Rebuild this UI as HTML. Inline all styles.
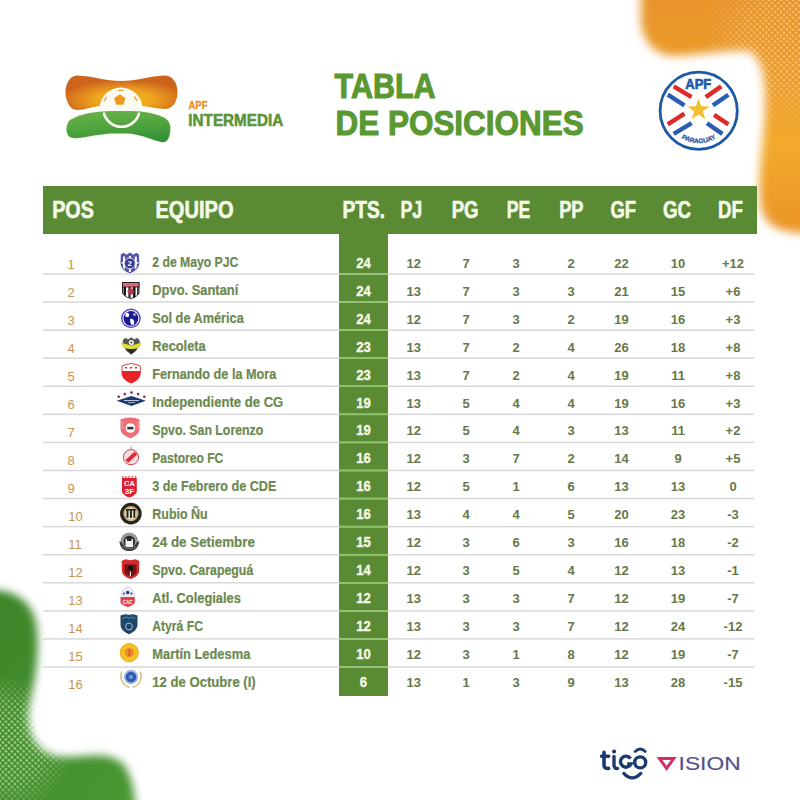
<!DOCTYPE html>
<html><head><meta charset="utf-8"><style>
html,body{margin:0;padding:0;width:800px;height:800px;overflow:hidden;background:#fff}
svg{display:block;position:absolute;left:0;top:0}
text{font-family:"Liberation Sans",sans-serif}
</style></head><body>
<svg width="800" height="800" viewBox="0 0 800 800">
<defs>
<filter id="blur4" x="-20%" y="-20%" width="140%" height="140%"><feGaussianBlur stdDeviation="4.2"/></filter><filter id="blur5" x="-20%" y="-20%" width="140%" height="140%"><feGaussianBlur stdDeviation="5"/></filter>
<linearGradient id="og" x1="0" y1="0" x2="0" y2="1"><stop offset="0" stop-color="#e8942a"/><stop offset="0.3" stop-color="#ec9c2a"/><stop offset="0.55" stop-color="#f2aa2e"/><stop offset="1" stop-color="#e88e22"/></linearGradient>
<linearGradient id="gg" x1="0" y1="0" x2="1" y2="1"><stop offset="0" stop-color="#3c8428"/><stop offset="1" stop-color="#4c9a36"/></linearGradient>
<radialGradient id="lo" cx="0.52" cy="0.7" r="0.58"><stop offset="0" stop-color="#f6be18"/><stop offset="0.45" stop-color="#eea41e"/><stop offset="1" stop-color="#cc641c"/></radialGradient>
<linearGradient id="lg" x1="0.3" y1="0" x2="0.6" y2="1"><stop offset="0" stop-color="#6cb24a"/><stop offset="0.5" stop-color="#4ea43e"/><stop offset="1" stop-color="#339036"/></linearGradient>
<pattern id="gdots" width="4.2" height="4.2" patternUnits="userSpaceOnUse" patternTransform="rotate(45)"><circle cx="2.1" cy="2.1" r="1.5" fill="#a0d084"/></pattern>
<pattern id="odots" width="4.2" height="4.2" patternUnits="userSpaceOnUse" patternTransform="rotate(45)"><circle cx="2.1" cy="2.1" r="1.3" fill="#f8d49a" fill-opacity="0.75"/></pattern>
<radialGradient id="gmg" cx="5" cy="745" r="70" gradientUnits="userSpaceOnUse"><stop offset="0" stop-color="#fff" stop-opacity="1"/><stop offset="0.55" stop-color="#fff" stop-opacity="0.8"/><stop offset="1" stop-color="#fff" stop-opacity="0"/></radialGradient>
<mask id="gmask"><rect x="0" y="560" width="200" height="240" fill="url(#gmg)"/></mask>
<radialGradient id="omg" cx="790" cy="40" r="90" gradientUnits="userSpaceOnUse"><stop offset="0" stop-color="#fff" stop-opacity="1"/><stop offset="0.5" stop-color="#fff" stop-opacity="0.8"/><stop offset="1" stop-color="#fff" stop-opacity="0"/></radialGradient>
<mask id="omask"><rect x="600" y="0" width="200" height="260" fill="url(#omg)"/></mask>
</defs>

<mask id="oshape"><path filter="url(#blur5)" fill="#fff" d="M641,-20 L641,12 C639,37 652,56 676,56 C700,55 725,50 746,51 C761,53 766,78 765,110 C764,140 758,170 760,198 C761,222 773,231 800,233 L815,233 L815,-20 Z"/></mask>
<g mask="url(#oshape)"><rect x="600" y="0" width="200" height="260" fill="url(#og)"/><rect x="600" y="0" width="200" height="260" fill="url(#odots)" mask="url(#omask)"/></g>
<mask id="gshape"><path filter="url(#blur4)" fill="#fff" d="M-20,592 C5,586 30,596 36,622 C40,648 36,676 30,702 C25,726 32,750 56,756 C80,760 106,748 123,764 C132,774 135,795 137,820 L-20,820 Z"/></mask>
<g mask="url(#gshape)"><rect x="0" y="560" width="200" height="240" fill="url(#gg)"/><rect x="0" y="560" width="200" height="240" fill="url(#gdots)" mask="url(#gmask)"/></g>
<rect x="43" y="186" width="714" height="48" fill="#5a8a33"/>
<rect x="339" y="234" width="49" height="462" fill="#5a8a33"/>
<rect x="43" y="273.25" width="711" height="1.5" fill="#d8d8d8"/>
<rect x="339" y="273.25" width="49" height="1.5" fill="#8fc06c"/>
<rect x="43" y="301.32" width="711" height="1.5" fill="#d8d8d8"/>
<rect x="339" y="301.32" width="49" height="1.5" fill="#8fc06c"/>
<rect x="43" y="329.39" width="711" height="1.5" fill="#d8d8d8"/>
<rect x="339" y="329.39" width="49" height="1.5" fill="#8fc06c"/>
<rect x="43" y="357.46" width="711" height="1.5" fill="#d8d8d8"/>
<rect x="339" y="357.46" width="49" height="1.5" fill="#8fc06c"/>
<rect x="43" y="385.53" width="711" height="1.5" fill="#d8d8d8"/>
<rect x="339" y="385.53" width="49" height="1.5" fill="#8fc06c"/>
<rect x="43" y="413.60" width="711" height="1.5" fill="#d8d8d8"/>
<rect x="339" y="413.60" width="49" height="1.5" fill="#8fc06c"/>
<rect x="43" y="441.67" width="711" height="1.5" fill="#d8d8d8"/>
<rect x="339" y="441.67" width="49" height="1.5" fill="#8fc06c"/>
<rect x="43" y="469.74" width="711" height="1.5" fill="#d8d8d8"/>
<rect x="339" y="469.74" width="49" height="1.5" fill="#8fc06c"/>
<rect x="43" y="497.81" width="711" height="1.5" fill="#d8d8d8"/>
<rect x="339" y="497.81" width="49" height="1.5" fill="#8fc06c"/>
<rect x="43" y="525.88" width="711" height="1.5" fill="#d8d8d8"/>
<rect x="339" y="525.88" width="49" height="1.5" fill="#8fc06c"/>
<rect x="43" y="553.95" width="711" height="1.5" fill="#d8d8d8"/>
<rect x="339" y="553.95" width="49" height="1.5" fill="#8fc06c"/>
<rect x="43" y="582.02" width="711" height="1.5" fill="#d8d8d8"/>
<rect x="339" y="582.02" width="49" height="1.5" fill="#8fc06c"/>
<rect x="43" y="610.09" width="711" height="1.5" fill="#d8d8d8"/>
<rect x="339" y="610.09" width="49" height="1.5" fill="#8fc06c"/>
<rect x="43" y="638.16" width="711" height="1.5" fill="#d8d8d8"/>
<rect x="339" y="638.16" width="49" height="1.5" fill="#8fc06c"/>
<rect x="43" y="666.23" width="711" height="1.5" fill="#d8d8d8"/>
<rect x="339" y="666.23" width="49" height="1.5" fill="#8fc06c"/>
<text x="52.2" y="218" font-size="24.7" font-weight="bold" fill="#f4f8e8" stroke="#f4f8e8" stroke-width="0.7" textLength="41.6" lengthAdjust="spacingAndGlyphs">POS</text>
<text x="155.45" y="218" font-size="24.7" font-weight="bold" fill="#f4f8e8" stroke="#f4f8e8" stroke-width="0.7" textLength="78.1" lengthAdjust="spacingAndGlyphs">EQUIPO</text>
<text x="342.45" y="218" font-size="24.7" font-weight="bold" fill="#f4f8e8" stroke="#f4f8e8" stroke-width="0.7" textLength="42.6" lengthAdjust="spacingAndGlyphs">PTS.</text>
<text x="400.45" y="218" font-size="24.7" font-weight="bold" fill="#f4f8e8" stroke="#f4f8e8" stroke-width="0.7" textLength="21.85" lengthAdjust="spacingAndGlyphs">PJ</text>
<text x="451.7" y="218" font-size="24.7" font-weight="bold" fill="#f4f8e8" stroke="#f4f8e8" stroke-width="0.7" textLength="26.85" lengthAdjust="spacingAndGlyphs">PG</text>
<text x="506.7" y="218" font-size="24.7" font-weight="bold" fill="#f4f8e8" stroke="#f4f8e8" stroke-width="0.7" textLength="23.6" lengthAdjust="spacingAndGlyphs">PE</text>
<text x="559.2" y="218" font-size="24.7" font-weight="bold" fill="#f4f8e8" stroke="#f4f8e8" stroke-width="0.7" textLength="24.35" lengthAdjust="spacingAndGlyphs">PP</text>
<text x="610.45" y="218" font-size="24.7" font-weight="bold" fill="#f4f8e8" stroke="#f4f8e8" stroke-width="0.7" textLength="25.6" lengthAdjust="spacingAndGlyphs">GF</text>
<text x="662.95" y="218" font-size="24.7" font-weight="bold" fill="#f4f8e8" stroke="#f4f8e8" stroke-width="0.7" textLength="28.1" lengthAdjust="spacingAndGlyphs">GC</text>
<text x="717.95" y="218" font-size="24.7" font-weight="bold" fill="#f4f8e8" stroke="#f4f8e8" stroke-width="0.7" textLength="24.85" lengthAdjust="spacingAndGlyphs">DF</text>
<text x="334.6" y="98.3" font-size="35.3" font-weight="bold" fill="#5a9832" stroke="#5a9832" stroke-width="1.1" textLength="101" lengthAdjust="spacingAndGlyphs">TABLA</text>
<text x="335.6" y="135.1" font-size="35.3" font-weight="bold" fill="#5a9832" stroke="#5a9832" stroke-width="1.1" textLength="248" lengthAdjust="spacingAndGlyphs">DE POSICIONES</text>
<text x="188.5" y="108.8" font-size="10.9" font-weight="bold" fill="#e8902a" stroke="#e8902a" stroke-width="0.3" textLength="19" lengthAdjust="spacingAndGlyphs">APF</text>
<text x="188.3" y="126" font-size="17.4" font-weight="bold" fill="#5a9436" stroke="#5a9436" stroke-width="0.55" textLength="95" lengthAdjust="spacingAndGlyphs">INTERMEDIA</text>
<text x="67.6" y="268.80" font-size="13" fill="#c9944f">1</text>
<text x="152.3" y="267.30" font-size="13.8" font-weight="bold" fill="#6c894f" stroke="#6c894f" stroke-width="0.2" textLength="86.0" lengthAdjust="spacingAndGlyphs">2 de Mayo PJC</text>
<text x="363.5" y="267.60" font-size="14.2" font-weight="bold" text-anchor="middle" fill="#f4f8e8" stroke="#f4f8e8" stroke-width="0.35" textLength="14.6" lengthAdjust="spacingAndGlyphs">24</text>
<text x="413.7" y="267.60" font-size="13" font-weight="bold" text-anchor="middle" fill="#66784a">12</text>
<text x="466" y="267.60" font-size="13" font-weight="bold" text-anchor="middle" fill="#66784a">7</text>
<text x="516" y="267.60" font-size="13" font-weight="bold" text-anchor="middle" fill="#66784a">3</text>
<text x="571" y="267.60" font-size="13" font-weight="bold" text-anchor="middle" fill="#66784a">2</text>
<text x="621.6" y="267.60" font-size="13" font-weight="bold" text-anchor="middle" fill="#66784a">22</text>
<text x="678" y="267.60" font-size="13" font-weight="bold" text-anchor="middle" fill="#66784a">10</text>
<text x="733" y="267.60" font-size="13" font-weight="bold" text-anchor="middle" fill="#66784a">+12</text>
<text x="67.6" y="296.78" font-size="13" fill="#c9944f">2</text>
<text x="152.3" y="295.28" font-size="13.8" font-weight="bold" fill="#6c894f" stroke="#6c894f" stroke-width="0.2" textLength="86.0" lengthAdjust="spacingAndGlyphs">Dpvo. Santaní</text>
<text x="363.5" y="295.58" font-size="14.2" font-weight="bold" text-anchor="middle" fill="#f4f8e8" stroke="#f4f8e8" stroke-width="0.35" textLength="14.6" lengthAdjust="spacingAndGlyphs">24</text>
<text x="413.7" y="295.58" font-size="13" font-weight="bold" text-anchor="middle" fill="#66784a">13</text>
<text x="466" y="295.58" font-size="13" font-weight="bold" text-anchor="middle" fill="#66784a">7</text>
<text x="516" y="295.58" font-size="13" font-weight="bold" text-anchor="middle" fill="#66784a">3</text>
<text x="571" y="295.58" font-size="13" font-weight="bold" text-anchor="middle" fill="#66784a">3</text>
<text x="621.6" y="295.58" font-size="13" font-weight="bold" text-anchor="middle" fill="#66784a">21</text>
<text x="678" y="295.58" font-size="13" font-weight="bold" text-anchor="middle" fill="#66784a">15</text>
<text x="733" y="295.58" font-size="13" font-weight="bold" text-anchor="middle" fill="#66784a">+6</text>
<text x="67.6" y="324.76" font-size="13" fill="#c9944f">3</text>
<text x="152.3" y="323.26" font-size="13.8" font-weight="bold" fill="#6c894f" stroke="#6c894f" stroke-width="0.2" textLength="91.4" lengthAdjust="spacingAndGlyphs">Sol de América</text>
<text x="363.5" y="323.56" font-size="14.2" font-weight="bold" text-anchor="middle" fill="#f4f8e8" stroke="#f4f8e8" stroke-width="0.35" textLength="14.6" lengthAdjust="spacingAndGlyphs">24</text>
<text x="413.7" y="323.56" font-size="13" font-weight="bold" text-anchor="middle" fill="#66784a">12</text>
<text x="466" y="323.56" font-size="13" font-weight="bold" text-anchor="middle" fill="#66784a">7</text>
<text x="516" y="323.56" font-size="13" font-weight="bold" text-anchor="middle" fill="#66784a">3</text>
<text x="571" y="323.56" font-size="13" font-weight="bold" text-anchor="middle" fill="#66784a">2</text>
<text x="621.6" y="323.56" font-size="13" font-weight="bold" text-anchor="middle" fill="#66784a">19</text>
<text x="678" y="323.56" font-size="13" font-weight="bold" text-anchor="middle" fill="#66784a">16</text>
<text x="733" y="323.56" font-size="13" font-weight="bold" text-anchor="middle" fill="#66784a">+3</text>
<text x="67.6" y="352.74" font-size="13" fill="#c9944f">4</text>
<text x="152.3" y="351.24" font-size="13.8" font-weight="bold" fill="#6c894f" stroke="#6c894f" stroke-width="0.2" textLength="53.4" lengthAdjust="spacingAndGlyphs">Recoleta</text>
<text x="363.5" y="351.54" font-size="14.2" font-weight="bold" text-anchor="middle" fill="#f4f8e8" stroke="#f4f8e8" stroke-width="0.35" textLength="14.6" lengthAdjust="spacingAndGlyphs">23</text>
<text x="413.7" y="351.54" font-size="13" font-weight="bold" text-anchor="middle" fill="#66784a">13</text>
<text x="466" y="351.54" font-size="13" font-weight="bold" text-anchor="middle" fill="#66784a">7</text>
<text x="516" y="351.54" font-size="13" font-weight="bold" text-anchor="middle" fill="#66784a">2</text>
<text x="571" y="351.54" font-size="13" font-weight="bold" text-anchor="middle" fill="#66784a">4</text>
<text x="621.6" y="351.54" font-size="13" font-weight="bold" text-anchor="middle" fill="#66784a">26</text>
<text x="678" y="351.54" font-size="13" font-weight="bold" text-anchor="middle" fill="#66784a">18</text>
<text x="733" y="351.54" font-size="13" font-weight="bold" text-anchor="middle" fill="#66784a">+8</text>
<text x="67.6" y="380.72" font-size="13" fill="#c9944f">5</text>
<text x="152.3" y="379.22" font-size="13.8" font-weight="bold" fill="#6c894f" stroke="#6c894f" stroke-width="0.2" textLength="124.0" lengthAdjust="spacingAndGlyphs">Fernando de la Mora</text>
<text x="363.5" y="379.52" font-size="14.2" font-weight="bold" text-anchor="middle" fill="#f4f8e8" stroke="#f4f8e8" stroke-width="0.35" textLength="14.6" lengthAdjust="spacingAndGlyphs">23</text>
<text x="413.7" y="379.52" font-size="13" font-weight="bold" text-anchor="middle" fill="#66784a">13</text>
<text x="466" y="379.52" font-size="13" font-weight="bold" text-anchor="middle" fill="#66784a">7</text>
<text x="516" y="379.52" font-size="13" font-weight="bold" text-anchor="middle" fill="#66784a">2</text>
<text x="571" y="379.52" font-size="13" font-weight="bold" text-anchor="middle" fill="#66784a">4</text>
<text x="621.6" y="379.52" font-size="13" font-weight="bold" text-anchor="middle" fill="#66784a">19</text>
<text x="678" y="379.52" font-size="13" font-weight="bold" text-anchor="middle" fill="#66784a">11</text>
<text x="733" y="379.52" font-size="13" font-weight="bold" text-anchor="middle" fill="#66784a">+8</text>
<text x="67.6" y="408.70" font-size="13" fill="#c9944f">6</text>
<text x="152.3" y="407.20" font-size="13.8" font-weight="bold" fill="#6c894f" stroke="#6c894f" stroke-width="0.2" textLength="131.0" lengthAdjust="spacingAndGlyphs">Independiente de CG</text>
<text x="363.5" y="407.50" font-size="14.2" font-weight="bold" text-anchor="middle" fill="#f4f8e8" stroke="#f4f8e8" stroke-width="0.35" textLength="14.6" lengthAdjust="spacingAndGlyphs">19</text>
<text x="413.7" y="407.50" font-size="13" font-weight="bold" text-anchor="middle" fill="#66784a">13</text>
<text x="466" y="407.50" font-size="13" font-weight="bold" text-anchor="middle" fill="#66784a">5</text>
<text x="516" y="407.50" font-size="13" font-weight="bold" text-anchor="middle" fill="#66784a">4</text>
<text x="571" y="407.50" font-size="13" font-weight="bold" text-anchor="middle" fill="#66784a">4</text>
<text x="621.6" y="407.50" font-size="13" font-weight="bold" text-anchor="middle" fill="#66784a">19</text>
<text x="678" y="407.50" font-size="13" font-weight="bold" text-anchor="middle" fill="#66784a">16</text>
<text x="733" y="407.50" font-size="13" font-weight="bold" text-anchor="middle" fill="#66784a">+3</text>
<text x="67.6" y="436.68" font-size="13" fill="#c9944f">7</text>
<text x="152.3" y="435.18" font-size="13.8" font-weight="bold" fill="#6c894f" stroke="#6c894f" stroke-width="0.2" textLength="111.0" lengthAdjust="spacingAndGlyphs">Spvo. San Lorenzo</text>
<text x="363.5" y="435.48" font-size="14.2" font-weight="bold" text-anchor="middle" fill="#f4f8e8" stroke="#f4f8e8" stroke-width="0.35" textLength="14.6" lengthAdjust="spacingAndGlyphs">19</text>
<text x="413.7" y="435.48" font-size="13" font-weight="bold" text-anchor="middle" fill="#66784a">12</text>
<text x="466" y="435.48" font-size="13" font-weight="bold" text-anchor="middle" fill="#66784a">5</text>
<text x="516" y="435.48" font-size="13" font-weight="bold" text-anchor="middle" fill="#66784a">4</text>
<text x="571" y="435.48" font-size="13" font-weight="bold" text-anchor="middle" fill="#66784a">3</text>
<text x="621.6" y="435.48" font-size="13" font-weight="bold" text-anchor="middle" fill="#66784a">13</text>
<text x="678" y="435.48" font-size="13" font-weight="bold" text-anchor="middle" fill="#66784a">11</text>
<text x="733" y="435.48" font-size="13" font-weight="bold" text-anchor="middle" fill="#66784a">+2</text>
<text x="67.6" y="464.66" font-size="13" fill="#c9944f">8</text>
<text x="152.3" y="463.16" font-size="13.8" font-weight="bold" fill="#6c894f" stroke="#6c894f" stroke-width="0.2" textLength="71.0" lengthAdjust="spacingAndGlyphs">Pastoreo FC</text>
<text x="363.5" y="463.46" font-size="14.2" font-weight="bold" text-anchor="middle" fill="#f4f8e8" stroke="#f4f8e8" stroke-width="0.35" textLength="14.6" lengthAdjust="spacingAndGlyphs">16</text>
<text x="413.7" y="463.46" font-size="13" font-weight="bold" text-anchor="middle" fill="#66784a">12</text>
<text x="466" y="463.46" font-size="13" font-weight="bold" text-anchor="middle" fill="#66784a">3</text>
<text x="516" y="463.46" font-size="13" font-weight="bold" text-anchor="middle" fill="#66784a">7</text>
<text x="571" y="463.46" font-size="13" font-weight="bold" text-anchor="middle" fill="#66784a">2</text>
<text x="621.6" y="463.46" font-size="13" font-weight="bold" text-anchor="middle" fill="#66784a">14</text>
<text x="678" y="463.46" font-size="13" font-weight="bold" text-anchor="middle" fill="#66784a">9</text>
<text x="733" y="463.46" font-size="13" font-weight="bold" text-anchor="middle" fill="#66784a">+5</text>
<text x="67.6" y="492.64" font-size="13" fill="#c9944f">9</text>
<text x="152.3" y="491.14" font-size="13.8" font-weight="bold" fill="#6c894f" stroke="#6c894f" stroke-width="0.2" textLength="124.0" lengthAdjust="spacingAndGlyphs">3 de Febrero de CDE</text>
<text x="363.5" y="491.44" font-size="14.2" font-weight="bold" text-anchor="middle" fill="#f4f8e8" stroke="#f4f8e8" stroke-width="0.35" textLength="14.6" lengthAdjust="spacingAndGlyphs">16</text>
<text x="413.7" y="491.44" font-size="13" font-weight="bold" text-anchor="middle" fill="#66784a">12</text>
<text x="466" y="491.44" font-size="13" font-weight="bold" text-anchor="middle" fill="#66784a">5</text>
<text x="516" y="491.44" font-size="13" font-weight="bold" text-anchor="middle" fill="#66784a">1</text>
<text x="571" y="491.44" font-size="13" font-weight="bold" text-anchor="middle" fill="#66784a">6</text>
<text x="621.6" y="491.44" font-size="13" font-weight="bold" text-anchor="middle" fill="#66784a">13</text>
<text x="678" y="491.44" font-size="13" font-weight="bold" text-anchor="middle" fill="#66784a">13</text>
<text x="733" y="491.44" font-size="13" font-weight="bold" text-anchor="middle" fill="#66784a">0</text>
<text x="68.3" y="520.62" font-size="13" fill="#c9944f">10</text>
<text x="152.3" y="519.12" font-size="13.8" font-weight="bold" fill="#6c894f" stroke="#6c894f" stroke-width="0.2" textLength="55.4" lengthAdjust="spacingAndGlyphs">Rubio Ñu</text>
<text x="363.5" y="519.42" font-size="14.2" font-weight="bold" text-anchor="middle" fill="#f4f8e8" stroke="#f4f8e8" stroke-width="0.35" textLength="14.6" lengthAdjust="spacingAndGlyphs">16</text>
<text x="413.7" y="519.42" font-size="13" font-weight="bold" text-anchor="middle" fill="#66784a">13</text>
<text x="466" y="519.42" font-size="13" font-weight="bold" text-anchor="middle" fill="#66784a">4</text>
<text x="516" y="519.42" font-size="13" font-weight="bold" text-anchor="middle" fill="#66784a">4</text>
<text x="571" y="519.42" font-size="13" font-weight="bold" text-anchor="middle" fill="#66784a">5</text>
<text x="621.6" y="519.42" font-size="13" font-weight="bold" text-anchor="middle" fill="#66784a">20</text>
<text x="678" y="519.42" font-size="13" font-weight="bold" text-anchor="middle" fill="#66784a">23</text>
<text x="733" y="519.42" font-size="13" font-weight="bold" text-anchor="middle" fill="#66784a">-3</text>
<text x="68.3" y="548.60" font-size="13" fill="#c9944f">11</text>
<text x="152.3" y="547.10" font-size="13.8" font-weight="bold" fill="#6c894f" stroke="#6c894f" stroke-width="0.2" textLength="102.6" lengthAdjust="spacingAndGlyphs">24 de Setiembre</text>
<text x="363.5" y="547.40" font-size="14.2" font-weight="bold" text-anchor="middle" fill="#f4f8e8" stroke="#f4f8e8" stroke-width="0.35" textLength="14.6" lengthAdjust="spacingAndGlyphs">15</text>
<text x="413.7" y="547.40" font-size="13" font-weight="bold" text-anchor="middle" fill="#66784a">12</text>
<text x="466" y="547.40" font-size="13" font-weight="bold" text-anchor="middle" fill="#66784a">3</text>
<text x="516" y="547.40" font-size="13" font-weight="bold" text-anchor="middle" fill="#66784a">6</text>
<text x="571" y="547.40" font-size="13" font-weight="bold" text-anchor="middle" fill="#66784a">3</text>
<text x="621.6" y="547.40" font-size="13" font-weight="bold" text-anchor="middle" fill="#66784a">16</text>
<text x="678" y="547.40" font-size="13" font-weight="bold" text-anchor="middle" fill="#66784a">18</text>
<text x="733" y="547.40" font-size="13" font-weight="bold" text-anchor="middle" fill="#66784a">-2</text>
<text x="68.3" y="576.58" font-size="13" fill="#c9944f">12</text>
<text x="152.3" y="575.08" font-size="13.8" font-weight="bold" fill="#6c894f" stroke="#6c894f" stroke-width="0.2" textLength="101.0" lengthAdjust="spacingAndGlyphs">Spvo. Carapeguá</text>
<text x="363.5" y="575.38" font-size="14.2" font-weight="bold" text-anchor="middle" fill="#f4f8e8" stroke="#f4f8e8" stroke-width="0.35" textLength="14.6" lengthAdjust="spacingAndGlyphs">14</text>
<text x="413.7" y="575.38" font-size="13" font-weight="bold" text-anchor="middle" fill="#66784a">12</text>
<text x="466" y="575.38" font-size="13" font-weight="bold" text-anchor="middle" fill="#66784a">3</text>
<text x="516" y="575.38" font-size="13" font-weight="bold" text-anchor="middle" fill="#66784a">5</text>
<text x="571" y="575.38" font-size="13" font-weight="bold" text-anchor="middle" fill="#66784a">4</text>
<text x="621.6" y="575.38" font-size="13" font-weight="bold" text-anchor="middle" fill="#66784a">12</text>
<text x="678" y="575.38" font-size="13" font-weight="bold" text-anchor="middle" fill="#66784a">13</text>
<text x="733" y="575.38" font-size="13" font-weight="bold" text-anchor="middle" fill="#66784a">-1</text>
<text x="68.3" y="604.56" font-size="13" fill="#c9944f">13</text>
<text x="152.3" y="603.06" font-size="13.8" font-weight="bold" fill="#6c894f" stroke="#6c894f" stroke-width="0.2" textLength="88.6" lengthAdjust="spacingAndGlyphs">Atl. Colegiales</text>
<text x="363.5" y="603.36" font-size="14.2" font-weight="bold" text-anchor="middle" fill="#f4f8e8" stroke="#f4f8e8" stroke-width="0.35" textLength="14.6" lengthAdjust="spacingAndGlyphs">12</text>
<text x="413.7" y="603.36" font-size="13" font-weight="bold" text-anchor="middle" fill="#66784a">13</text>
<text x="466" y="603.36" font-size="13" font-weight="bold" text-anchor="middle" fill="#66784a">3</text>
<text x="516" y="603.36" font-size="13" font-weight="bold" text-anchor="middle" fill="#66784a">3</text>
<text x="571" y="603.36" font-size="13" font-weight="bold" text-anchor="middle" fill="#66784a">7</text>
<text x="621.6" y="603.36" font-size="13" font-weight="bold" text-anchor="middle" fill="#66784a">12</text>
<text x="678" y="603.36" font-size="13" font-weight="bold" text-anchor="middle" fill="#66784a">19</text>
<text x="733" y="603.36" font-size="13" font-weight="bold" text-anchor="middle" fill="#66784a">-7</text>
<text x="68.3" y="632.54" font-size="13" fill="#c9944f">14</text>
<text x="152.3" y="631.04" font-size="13.8" font-weight="bold" fill="#6c894f" stroke="#6c894f" stroke-width="0.2" textLength="50.6" lengthAdjust="spacingAndGlyphs">Atyrá FC</text>
<text x="363.5" y="631.34" font-size="14.2" font-weight="bold" text-anchor="middle" fill="#f4f8e8" stroke="#f4f8e8" stroke-width="0.35" textLength="14.6" lengthAdjust="spacingAndGlyphs">12</text>
<text x="413.7" y="631.34" font-size="13" font-weight="bold" text-anchor="middle" fill="#66784a">13</text>
<text x="466" y="631.34" font-size="13" font-weight="bold" text-anchor="middle" fill="#66784a">3</text>
<text x="516" y="631.34" font-size="13" font-weight="bold" text-anchor="middle" fill="#66784a">3</text>
<text x="571" y="631.34" font-size="13" font-weight="bold" text-anchor="middle" fill="#66784a">7</text>
<text x="621.6" y="631.34" font-size="13" font-weight="bold" text-anchor="middle" fill="#66784a">12</text>
<text x="678" y="631.34" font-size="13" font-weight="bold" text-anchor="middle" fill="#66784a">24</text>
<text x="733" y="631.34" font-size="13" font-weight="bold" text-anchor="middle" fill="#66784a">-12</text>
<text x="68.3" y="660.52" font-size="13" fill="#c9944f">15</text>
<text x="152.3" y="659.02" font-size="13.8" font-weight="bold" fill="#6c894f" stroke="#6c894f" stroke-width="0.2" textLength="98.0" lengthAdjust="spacingAndGlyphs">Martín Ledesma</text>
<text x="363.5" y="659.32" font-size="14.2" font-weight="bold" text-anchor="middle" fill="#f4f8e8" stroke="#f4f8e8" stroke-width="0.35" textLength="14.6" lengthAdjust="spacingAndGlyphs">10</text>
<text x="413.7" y="659.32" font-size="13" font-weight="bold" text-anchor="middle" fill="#66784a">12</text>
<text x="466" y="659.32" font-size="13" font-weight="bold" text-anchor="middle" fill="#66784a">3</text>
<text x="516" y="659.32" font-size="13" font-weight="bold" text-anchor="middle" fill="#66784a">1</text>
<text x="571" y="659.32" font-size="13" font-weight="bold" text-anchor="middle" fill="#66784a">8</text>
<text x="621.6" y="659.32" font-size="13" font-weight="bold" text-anchor="middle" fill="#66784a">12</text>
<text x="678" y="659.32" font-size="13" font-weight="bold" text-anchor="middle" fill="#66784a">19</text>
<text x="733" y="659.32" font-size="13" font-weight="bold" text-anchor="middle" fill="#66784a">-7</text>
<text x="68.3" y="688.50" font-size="13" fill="#c9944f">16</text>
<text x="152.3" y="687.00" font-size="13.8" font-weight="bold" fill="#6c894f" stroke="#6c894f" stroke-width="0.2" textLength="103.4" lengthAdjust="spacingAndGlyphs">12 de Octubre (I)</text>
<text x="363.5" y="687.30" font-size="14.2" font-weight="bold" text-anchor="middle" fill="#f4f8e8" stroke="#f4f8e8" stroke-width="0.35" textLength="7.3" lengthAdjust="spacingAndGlyphs">6</text>
<text x="413.7" y="687.30" font-size="13" font-weight="bold" text-anchor="middle" fill="#66784a">13</text>
<text x="466" y="687.30" font-size="13" font-weight="bold" text-anchor="middle" fill="#66784a">1</text>
<text x="516" y="687.30" font-size="13" font-weight="bold" text-anchor="middle" fill="#66784a">3</text>
<text x="571" y="687.30" font-size="13" font-weight="bold" text-anchor="middle" fill="#66784a">9</text>
<text x="621.6" y="687.30" font-size="13" font-weight="bold" text-anchor="middle" fill="#66784a">13</text>
<text x="678" y="687.30" font-size="13" font-weight="bold" text-anchor="middle" fill="#66784a">28</text>
<text x="733" y="687.30" font-size="13" font-weight="bold" text-anchor="middle" fill="#66784a">-15</text>
<!-- APF Intermedia logo -->
<g id="intermedia">
<path fill="url(#lo)" d="M78,75.5 C92,76 106,81 121,81 C136,81 150,76 164,75.5 C173,75.5 177.5,83 177.5,92 C177.5,101 173,109 165,109 C156,109 148,106 141,106 L101,106 C93,106 86,110 77,110 C70,110 65.5,101 65.5,92.5 C65.5,83 70,75.5 78,75.5 Z"/>
<circle cx="121" cy="109" r="21.5" fill="#fbfbf3"/>
<path fill="#ee9a1c" d="M119.8,94.2 L125.5,98.2 L123.5,104.8 L116.2,104.8 L114.1,98.2 Z"/>
<path stroke="#e8a040" stroke-width="1.3" fill="none" stroke-linecap="round" d="M118.5,90.3 L123.5,90.3 M104.2,101 L106.5,97.3 M134.5,96.8 L137,100.6"/>
<path fill="url(#lg)" stroke="#fbfbf3" stroke-width="1.6" d="M70,119 C80,113.5 95,110.5 110,110.3 L132,110.3 C145,110.5 157,113.5 165,117 C170,120 172,126 171,132 C170,139 167,143.5 162,143 C152,141 143,135.5 128,134.3 L112,134.3 C98,135 86,138 76,139 C68,139.5 65,134 65.7,128.5 C66.2,124 67.5,121 70,119 Z"/>
<path fill="none" stroke="#fbfbf3" stroke-width="2.7" stroke-linecap="round" d="M104,113.7 A18.25,18.25 0 0 0 139,113.7"/>
</g>
<!-- APF Paraguay -->
<g id="apf">
<circle cx="698.7" cy="110.7" r="38.6" fill="#ffffff" stroke="#1d5aa6" stroke-width="2.8"/>
<text x="685.3" y="89.3" font-size="15" font-weight="bold" fill="#1d5aa6" stroke="#1d5aa6" stroke-width="0.7" textLength="26" lengthAdjust="spacingAndGlyphs">APF</text>
<g stroke-width="4.4" stroke-linecap="butt">
<path stroke="#e02a2a" d="M673.75,86.4 L691.6,97.1 M721.25,86.4 L705.8,97.1 M667.8,124.4 L684.4,113.7 M714.1,114.9 L728.4,124.4"/>
<path stroke="#2a5cb0" d="M667.8,94.7 L684.4,105.4 M728.4,94.7 L712.9,105.4 M673.75,133.9 L691.6,123.2 M707,123.2 L722.4,133.9"/>
</g>
<path fill="#f0c030" d="M698.5,98.5 L701.2,106.3 L709.5,106.4 L702.9,111.4 L705.3,119.3 L698.5,114.6 L691.7,119.3 L694.1,111.4 L687.5,106.4 L695.8,106.3 Z"/>
<path id="arcp" fill="none" d="M666.2,110.7 A32.5,32.5 0 0 0 731.2,110.7"/>
<text font-size="6.6" font-weight="bold" fill="#1d5aa6" stroke="#1d5aa6" stroke-width="0.25"><textPath href="#arcp" startOffset="50%" text-anchor="middle">PARAGUAY</textPath></text>
</g>
<!-- 1 2 de Mayo -->
<g>
<path fill="#5454aa" d="M120.8,254.5 L123.5,252.8 L126.5,254.8 L129.9,252.6 L133.3,254.8 L136.3,252.8 L139,254.5 L139.3,263 C139.3,268 135,271.5 129.9,273.3 C124.8,271.5 120.5,268 120.5,263 Z"/>
<path fill="#ffffff" d="M123,256.5 L125,256.5 L125,269.5 L123,267.5 Z M128.9,256 L130.9,256 L130.9,272 L128.9,272 Z M134.8,256.5 L136.8,256.5 L136.8,267.5 L134.8,269.5 Z"/>
<path fill="#ffffff" d="M121.5,262 h17 v1.6 h-17 Z"/>
<circle cx="129.8" cy="263.4" r="5.4" fill="#38388e" stroke="#e8e8f8" stroke-width="0.9"/>
<text x="129.8" y="266.4" font-size="8" font-weight="bold" fill="#fff" text-anchor="middle">2</text>
</g>
<!-- 2 Santani -->
<g>
<path fill="#ffffff" stroke="#111" stroke-width="0.9" d="M122.5,282.5 L139,282.5 L139,292 C139,295 135,297.5 130.8,298.5 C126.5,297.5 122.5,295 122.5,292 Z"/>
<path fill="#111" d="M123.5,287 L126,287 L126,296 L123.5,294 Z M128.5,287 L130.5,287 L130.5,298 L128.5,297.5 Z M133,287 L135.5,287 L135.5,297 L133,297.8 Z M137.2,287 L138.5,287 L138.5,294 L137.2,295.5 Z"/>
<rect x="122.5" y="282.5" width="16.5" height="4.5" fill="#d86a78" stroke="#111" stroke-width="0.7"/>
<circle cx="130.8" cy="291.5" r="3.2" fill="#b03a50"/>
</g>
<!-- 3 Sol de America -->
<g>
<circle cx="130.9" cy="318.4" r="9.8" fill="#4a4ad0"/>
<circle cx="130.9" cy="318.4" r="8.4" fill="#ffffff"/>
<circle cx="130.9" cy="318.4" r="7.4" fill="#1a1a90"/>
<path fill="#ffffff" d="M126,313 C128,312 130,314 129,316 C128,318 126,317 125,316 Z M130,319 C133,318 135,321 134,324 C133,325.5 131,325 130.5,323 Z"/>
<circle cx="134.5" cy="314.5" r="1.6" fill="#b0a080"/>
</g>
<!-- 4 Recoleta -->
<g>
<path fill="#55554a" d="M123,340 L125.5,337.8 L128,339.5 L131.2,337.3 L134.5,339.5 L137,337.8 L139.5,340 L140,344 L136,351 L131.2,354.5 L126.5,351 L122.5,344 Z"/>
<path fill="#e0dc38" d="M120.8,342.5 L127.5,344.5 L131.2,345.5 L135,344.5 L141.8,342.5 L139.5,347.5 L134.5,348.8 L131.2,349.2 L128,348.8 L123,347.5 Z"/>
<path fill="#2a2a22" d="M126,349 L136.5,349 L131.2,354.5 Z"/>
<circle cx="131.3" cy="342.6" r="2.5" fill="#ffffff"/>
<circle cx="131.3" cy="342.6" r="1" fill="#333"/>
</g>
<!-- 5 Fernando de la Mora -->
<g>
<path fill="#ffffff" stroke="#e02830" stroke-width="0.9" d="M122,366 L126,364.5 L131.2,363.5 L136,364.5 L140.3,366 L140.3,373 C140.3,378 136,381.5 131.2,383 C126.5,381.5 122,378 122,373 Z"/>
<path fill="#e82028" d="M122,371 L140.3,371 L140.3,373 C140.3,378 136,381.5 131.2,383 C126.5,381.5 122,378 122,373 Z"/>
<path fill="#c03040" d="M125,367 h2 v1.5 h-2 Z M130,367 h2 v1.5 h-2 Z M135,367 h2 v1.5 h-2 Z"/>
</g>
<!-- 6 Independiente CG -->
<g>
<path fill="#1c3a78" d="M116.6,400.8 L131.5,396 L145.8,400.8 L131.5,406 Z"/>
<path fill="#ffffff" opacity="0.7" d="M124,400 h15 v0.9 h-15 Z M128,402.2 h7 v0.8 h-7 Z"/>
<g fill="#8a2848"><circle cx="118.7" cy="396.7" r="1.3"/><circle cx="124.8" cy="394.1" r="1.3"/><circle cx="131.5" cy="392.6" r="1.3"/><circle cx="138.1" cy="394.1" r="1.3"/><circle cx="144.3" cy="396.7" r="1.3"/></g>
</g>
<!-- 7 San Lorenzo -->
<g>
<path fill="#ec6e76" d="M120.5,419.5 L125,418 L130.4,417.5 L135.5,418 L139.5,419.5 L139.5,429 C139.5,433.5 135,436.5 130.4,438.2 C125.5,436.5 120.5,433.5 120.5,429 Z"/>
<path fill="none" stroke="#f8c0c4" stroke-width="0.6" d="M122.5,421 L122.5,429 M138,421 L138,429"/>
<circle cx="130.4" cy="428" r="4.8" fill="#ffffff"/>
<rect x="127.3" y="426.8" width="6.2" height="2.6" fill="#333"/>
</g>
<!-- 8 Pastoreo -->
<g>
<circle cx="131" cy="457.2" r="7.6" fill="#f4e0e0" stroke="#d04050" stroke-width="1"/>
<path fill="#e02838" d="M125.5,460 L134.5,451.8 L137.2,454.5 L128.2,462.7 Z"/>
<rect x="130.4" y="446.5" width="1.2" height="3" fill="#c0a070"/>
</g>
<!-- 9 3 de Febrero -->
<g>
<path fill="#e01e2e" d="M122,478 L136.8,478 L136.8,491 C136.8,494 133,496.5 129.4,497.3 C125.8,496.5 122,494 122,491 Z"/>
<g fill="#d03040"><rect x="122.2" y="476.2" width="1.4" height="1.4"/><rect x="125.2" y="476.2" width="1.4" height="1.4"/><rect x="128.4" y="476.2" width="1.4" height="1.4"/><rect x="131.6" y="476.2" width="1.4" height="1.4"/><rect x="134.8" y="476.2" width="1.4" height="1.4"/></g>
<text x="129.4" y="486" font-size="7.5" font-weight="bold" fill="#fff" text-anchor="middle" textLength="11" lengthAdjust="spacingAndGlyphs">CA</text>
<text x="129.4" y="493.5" font-size="7.5" font-weight="bold" fill="#fff" text-anchor="middle" textLength="10" lengthAdjust="spacingAndGlyphs">3F</text>
</g>
<!-- 10 Rubio Nu -->
<g>
<circle cx="130.9" cy="513.6" r="10.8" fill="#2a2418"/>
<circle cx="130.9" cy="513.6" r="7.6" fill="#c4b488"/>
<circle cx="130.9" cy="513.9" r="5.6" fill="#f0ece0"/>
<path fill="#2a2418" d="M126.5,510 h2 v7.8 h-2 Z M129.9,509.5 h2 v8.6 h-2 Z M133.3,510 h2 v7.8 h-2 Z"/>
<rect x="126" y="509" width="9.8" height="1.5" fill="#2a2418"/>
</g>
<!-- 11 24 de Setiembre -->
<g>
<circle cx="129.3" cy="541.3" r="8.8" fill="#9a9a9a"/>
<circle cx="129.3" cy="541.6" r="5.8" fill="#2a2a2a"/>
<path fill="#f0f0f0" d="M125.5,547 L125.5,539.5 L127,538.5 L127,541 L131.5,541 L131.5,538.5 L133,539.5 L133,547 Z"/>
<path fill="#3a3a3a" d="M119.3,541.5 C121,541 122.5,543 124,545.5 C126,548 132.5,548 134.5,545.5 C136,543 137.5,541 139.5,541.5 L138,546 C136,550 132.5,551 129.3,551 C126,551 122.5,550 120.5,546 Z"/>
<path fill="none" stroke="#bbb" stroke-width="0.5" d="M122,546 C125,549.5 133.5,549.5 136.5,546"/>
</g>
<!-- 12 Carapegua -->
<g>
<path fill="#d42a2a" d="M121.6,561 L125.5,559.3 L130.6,560.3 L135.5,559.3 L139.3,561 L139.1,571 C139.1,575 135,577.8 130.6,579 C126.2,577.8 122,575 122,571 Z"/>
<path fill="#7a1414" d="M124.5,564.5 L136.5,564.5 L136.5,571.5 C136.5,574 133.5,576 130.6,576.8 C127.7,576 124.5,574 124.5,571.5 Z"/>
<path fill="#141010" d="M128.5,566 L133.5,566 L132.5,570.5 L131.5,576 L129.3,576.5 L130.5,570 L128,569 Z"/>
<path fill="#ffffff" d="M130.2,571.5 L131.3,571.5 L130.8,576.2 L129.6,576.4 Z"/>
</g>
<!-- 13 Colegiales -->
<g>
<path fill="#e8eaf2" stroke="#c8c8d8" stroke-width="0.5" d="M121,596 C121,590 124,588 127.7,586.5 C131.5,588 134.6,590 134.6,596 Z"/>
<circle cx="127.7" cy="592.5" r="1.7" fill="#2a3a70"/>
<circle cx="124" cy="593.5" r="1" fill="#2a3a70"/>
<circle cx="131.5" cy="593.5" r="1" fill="#2a3a70"/>
<path fill="#e24252" d="M120.5,597 L134.8,597 L134.8,603 C133,605 130,606.5 127.7,607 C125.2,606.5 122.5,605 120.5,603 Z"/>
<text x="127.7" y="604" font-size="5.5" font-weight="bold" fill="#fff" text-anchor="middle" textLength="10" lengthAdjust="spacingAndGlyphs">CAC</text>
</g>
<!-- 14 Atyra -->
<g>
<path fill="#1e4668" d="M120.5,615.5 L124.5,614.2 L129,614.8 L133.5,614.2 L137.5,615.5 L137.5,624.5 C137.5,629 133.5,632.5 129,634.2 C124.5,632.5 120.5,629 120.5,624.5 Z"/>
<path fill="none" stroke="#6a9ac0" stroke-width="0.8" d="M122.5,618.5 L127,617 L129,618.5 L131,617 L135.5,618.5"/>
<circle cx="129" cy="626.5" r="3.4" fill="none" stroke="#a8c0d8" stroke-width="1"/>
</g>
<!-- 15 Martin Ledesma -->
<g>
<circle cx="129.3" cy="652.6" r="9.1" fill="#f6c020" stroke="#eaa818" stroke-width="1"/>
<circle cx="129.3" cy="652.6" r="4.6" fill="#e88a30"/>
<rect x="128.4" y="649" width="1.8" height="7" fill="#d86030"/>
</g>
<!-- 16 12 de Octubre -->
<g>
<path fill="none" stroke="#d4c088" stroke-width="1.6" d="M121.8,671.5 C119.5,678 122,685 129.5,687.5 M140.2,671.5 C142.5,678 140,685 132.5,687.5"/>
<circle cx="131" cy="677" r="7.2" fill="#9ab4e6"/>
<circle cx="131" cy="677" r="5.2" fill="#2a5aae"/>
<circle cx="131" cy="677" r="2.2" fill="#6f96d6"/>
</g>
<!-- tigo -->
<g fill="none" stroke="#1b3a70" stroke-linecap="round">
<path stroke-width="3.6" d="M604,752.3 L604,765 C604,767.8 605.8,768.6 608.6,768.4 M601.6,756.2 L608.6,756.2"/>
<path stroke-width="3.4" d="M614,756.5 L614,765 C614,767.8 615.4,768.6 617.6,768.4"/>
<path stroke-width="3.4" stroke-linecap="butt" d="M630.6,758.6 A5.5,5.5 0 1 0 631,764 L627.2,764"/>
<circle cx="640.2" cy="762.4" r="5.5" stroke-width="3.4"/>
<path stroke-width="2.8" d="M635.2,751.6 Q640.2,746.6 645.2,751.6"/>
<path stroke-width="3.3" d="M623.8,773.4 Q632.2,782.5 640.8,773.4"/>
</g>
<circle cx="614.1" cy="751.4" r="2" fill="#1b3a70"/>
<!-- vision -->
<path fill="none" stroke="#d22f68" stroke-width="3" stroke-linejoin="miter" d="M659.4,758.4 L673.8,758.4 L666.6,768.4 Z"/>
<text x="678.6" y="770" font-size="18.6" fill="#534f8c" stroke="#534f8c" stroke-width="0.15" textLength="62" lengthAdjust="spacingAndGlyphs">ISION</text>

</svg></body></html>
